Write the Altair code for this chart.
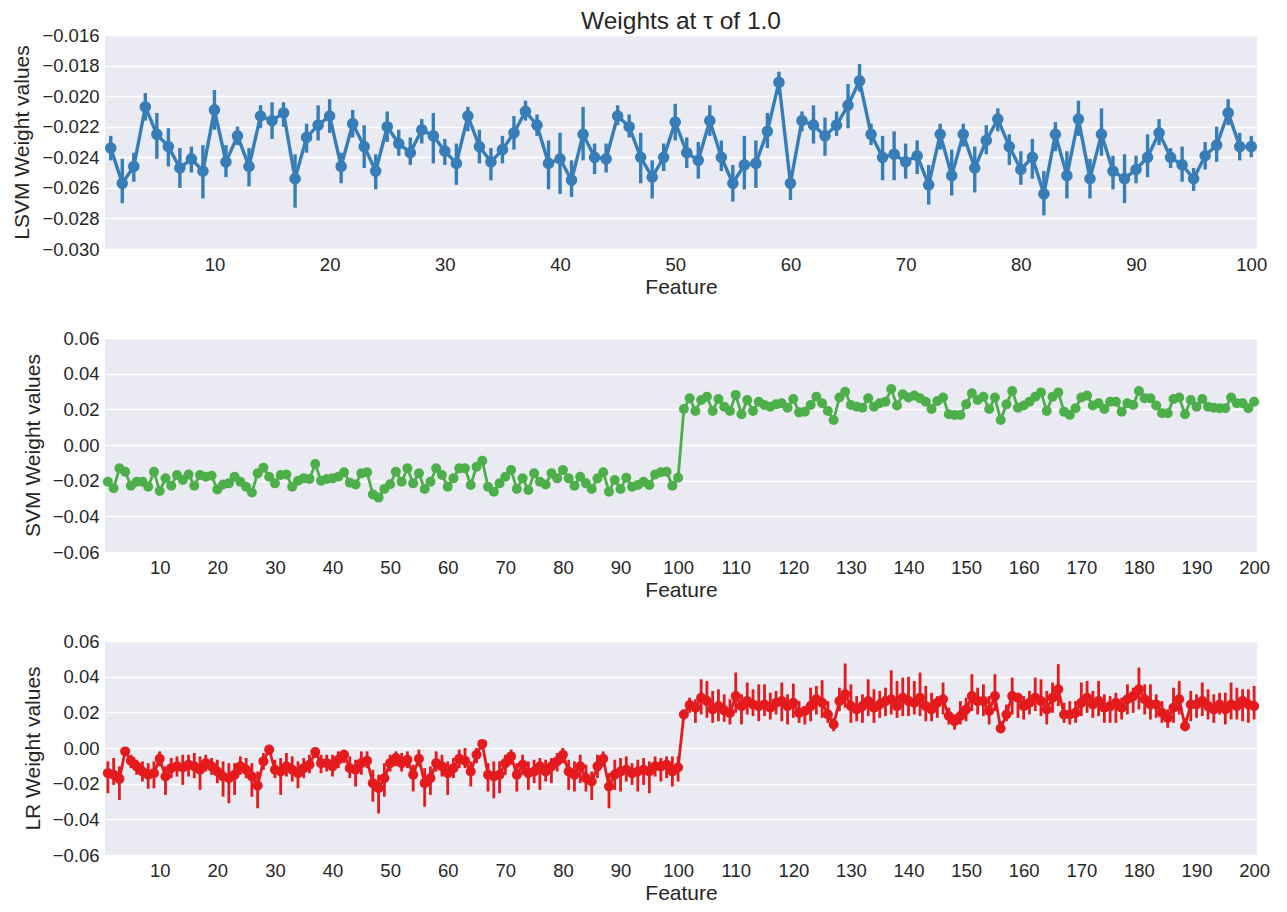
import altair as alt
import pandas as pd

# ---------------- data ----------------
lsvm_w = [-0.0234, -0.0257, -0.0246, -0.0207, -0.0225, -0.0233, -0.0247, -0.0241, -0.0249, -0.0209,
          -0.0243, -0.0226, -0.0246, -0.0213, -0.0216, -0.0211, -0.0254, -0.0227, -0.0219, -0.0213,
          -0.0246, -0.0218, -0.0233, -0.0249, -0.0220, -0.0231, -0.0237, -0.0222, -0.0226, -0.0236,
          -0.0244, -0.0213, -0.0233, -0.0243, -0.0235, -0.0224, -0.0210, -0.0219, -0.0244, -0.0241,
          -0.0255, -0.0225, -0.0240, -0.0241, -0.0213, -0.0220, -0.0240, -0.0253, -0.0240, -0.0217,
          -0.0237, -0.0242, -0.0216, -0.0240, -0.0257, -0.0245, -0.0244, -0.0223, -0.0191, -0.0257,
          -0.0216, -0.0219, -0.0226, -0.0219, -0.0206, -0.0190, -0.0225, -0.0240, -0.0238, -0.0243,
          -0.0239, -0.0258, -0.0225, -0.0252, -0.0225, -0.0247, -0.0229, -0.0215, -0.0233, -0.0248,
          -0.0240, -0.0264, -0.0225, -0.0252, -0.0215, -0.0254, -0.0225, -0.0249, -0.0254, -0.0248,
          -0.0240, -0.0224, -0.0240, -0.0245, -0.0254, -0.0239, -0.0232, -0.0211, -0.0233, -0.0233]
lsvm_lo = [-0.0242, -0.0270, -0.0256, -0.0216, -0.0241, -0.0246, -0.0260, -0.0250, -0.0267, -0.0222,
           -0.0253, -0.0232, -0.0259, -0.0221, -0.0228, -0.0220, -0.0273, -0.0237, -0.0229, -0.0224,
           -0.0257, -0.0227, -0.0247, -0.0261, -0.0230, -0.0239, -0.0245, -0.0231, -0.0244, -0.0245,
           -0.0258, -0.0223, -0.0244, -0.0255, -0.0244, -0.0235, -0.0216, -0.0226, -0.0261, -0.0264,
           -0.0266, -0.0242, -0.0251, -0.0250, -0.0219, -0.0227, -0.0257, -0.0267, -0.0249, -0.0229,
           -0.0247, -0.0254, -0.0226, -0.0249, -0.0269, -0.0261, -0.0260, -0.0234, -0.0199, -0.0268,
           -0.0223, -0.0231, -0.0239, -0.0226, -0.0221, -0.0197, -0.0232, -0.0255, -0.0255, -0.0254,
           -0.0251, -0.0271, -0.0235, -0.0265, -0.0233, -0.0263, -0.0238, -0.0223, -0.0245, -0.0258,
           -0.0254, -0.0278, -0.0236, -0.0267, -0.0226, -0.0267, -0.0239, -0.0261, -0.0270, -0.0257,
           -0.0253, -0.0232, -0.0247, -0.0256, -0.0262, -0.0248, -0.0243, -0.0219, -0.0242, -0.0240]
lsvm_hi = [-0.0226, -0.0241, -0.0237, -0.0198, -0.0211, -0.0221, -0.0234, -0.0233, -0.0232, -0.0196,
           -0.0232, -0.0220, -0.0234, -0.0206, -0.0204, -0.0204, -0.0238, -0.0218, -0.0206, -0.0202,
           -0.0237, -0.0209, -0.0219, -0.0238, -0.0210, -0.0222, -0.0227, -0.0215, -0.0211, -0.0228,
           -0.0231, -0.0207, -0.0222, -0.0234, -0.0226, -0.0213, -0.0203, -0.0212, -0.0229, -0.0224,
           -0.0242, -0.0207, -0.0231, -0.0231, -0.0206, -0.0212, -0.0224, -0.0242, -0.0231, -0.0205,
           -0.0227, -0.0230, -0.0206, -0.0229, -0.0245, -0.0226, -0.0229, -0.0211, -0.0184, -0.0249,
           -0.0210, -0.0206, -0.0214, -0.0210, -0.0192, -0.0179, -0.0218, -0.0226, -0.0223, -0.0231,
           -0.0229, -0.0245, -0.0218, -0.0235, -0.0218, -0.0233, -0.0219, -0.0208, -0.0225, -0.0236,
           -0.0228, -0.0249, -0.0217, -0.0236, -0.0203, -0.0241, -0.0208, -0.0239, -0.0238, -0.0239,
           -0.0225, -0.0215, -0.0234, -0.0233, -0.0247, -0.0230, -0.0220, -0.0202, -0.0224, -0.0226]

svm_w = [-0.0206, -0.0243, -0.0131, -0.0150, -0.0228, -0.0206, -0.0206, -0.0234, -0.0150, -0.0258,
         -0.0187, -0.0228, -0.0168, -0.0196, -0.0165, -0.0228, -0.0168, -0.0178, -0.0172, -0.0249,
         -0.0221, -0.0215, -0.0178, -0.0206, -0.0234, -0.0266, -0.0159, -0.0127, -0.0178, -0.0215,
         -0.0168, -0.0165, -0.0234, -0.0200, -0.0187, -0.0190, -0.0107, -0.0200, -0.0191, -0.0187,
         -0.0178, -0.0153, -0.0211, -0.0221, -0.0159, -0.0153, -0.0277, -0.0295, -0.0247, -0.0220,
         -0.0150, -0.0206, -0.0131, -0.0215, -0.0159, -0.0247, -0.0206, -0.0131, -0.0168, -0.0234,
         -0.0187, -0.0131, -0.0131, -0.0224, -0.0122, -0.0088, -0.0234, -0.0262, -0.0215, -0.0178,
         -0.0140, -0.0247, -0.0187, -0.0252, -0.0159, -0.0206, -0.0221, -0.0159, -0.0187, -0.0140,
         -0.0187, -0.0228, -0.0178, -0.0215, -0.0247, -0.0187, -0.0153, -0.0262, -0.0196, -0.0247,
         -0.0183, -0.0234, -0.0224, -0.0206, -0.0224, -0.0165, -0.0153, -0.0150, -0.0228, -0.0183,
         0.0202, 0.0262, 0.0191, 0.0252, 0.0271, 0.0191, 0.0258, 0.0215, 0.0191, 0.0281,
         0.0172, 0.0252, 0.0191, 0.0243, 0.0224, 0.0215, 0.0228, 0.0234, 0.0209, 0.0258,
         0.0183, 0.0187, 0.0224, 0.0271, 0.0234, 0.0191, 0.0140, 0.0266, 0.0299, 0.0224,
         0.0215, 0.0209, 0.0262, 0.0215, 0.0234, 0.0243, 0.0314, 0.0221, 0.0284, 0.0266,
         0.0277, 0.0262, 0.0243, 0.0202, 0.0247, 0.0266, 0.0172, 0.0168, 0.0168, 0.0228,
         0.0290, 0.0252, 0.0271, 0.0202, 0.0266, 0.0140, 0.0228, 0.0303, 0.0209, 0.0221,
         0.0243, 0.0271, 0.0295, 0.0191, 0.0271, 0.0295, 0.0187, 0.0168, 0.0206, 0.0266,
         0.0277, 0.0221, 0.0234, 0.0202, 0.0243, 0.0243, 0.0187, 0.0234, 0.0224, 0.0303,
         0.0262, 0.0262, 0.0221, 0.0178, 0.0178, 0.0258, 0.0266, 0.0172, 0.0252, 0.0215,
         0.0258, 0.0215, 0.0209, 0.0206, 0.0206, 0.0266, 0.0234, 0.0234, 0.0206, 0.0243]

lr_w = [-0.0141, -0.0150, -0.0173, -0.0019, -0.0071, -0.0103, -0.0132, -0.0150, -0.0141, -0.0060,
        -0.0160, -0.0113, -0.0103, -0.0109, -0.0094, -0.0103, -0.0122, -0.0085, -0.0103, -0.0132,
        -0.0160, -0.0169, -0.0150, -0.0103, -0.0122, -0.0160, -0.0211, -0.0075, -0.0009, -0.0122,
        -0.0132, -0.0103, -0.0122, -0.0141, -0.0113, -0.0094, -0.0023, -0.0085, -0.0085, -0.0103,
        -0.0066, -0.0038, -0.0113, -0.0122, -0.0085, -0.0071, -0.0197, -0.0226, -0.0169, -0.0085,
        -0.0056, -0.0085, -0.0066, -0.0150, -0.0060, -0.0197, -0.0169, -0.0085, -0.0103, -0.0141,
        -0.0113, -0.0060, -0.0071, -0.0132, -0.0038, 0.0023, -0.0150, -0.0160, -0.0150, -0.0085,
        -0.0047, -0.0150, -0.0094, -0.0141, -0.0132, -0.0103, -0.0132, -0.0103, -0.0075, -0.0038,
        -0.0132, -0.0150, -0.0103, -0.0169, -0.0188, -0.0103, -0.0060, -0.0216, -0.0150, -0.0132,
        -0.0122, -0.0141, -0.0132, -0.0122, -0.0132, -0.0103, -0.0103, -0.0094, -0.0132, -0.0109,
        0.0188, 0.0241, 0.0226, 0.0282, 0.0263, 0.0216, 0.0235, 0.0211, 0.0197, 0.0291,
        0.0235, 0.0263, 0.0244, 0.0235, 0.0244, 0.0226, 0.0254, 0.0263, 0.0235, 0.0254,
        0.0197, 0.0207, 0.0235, 0.0273, 0.0254, 0.0188, 0.0132, 0.0263, 0.0301, 0.0235,
        0.0216, 0.0235, 0.0263, 0.0226, 0.0244, 0.0263, 0.0273, 0.0235, 0.0282, 0.0263,
        0.0254, 0.0282, 0.0235, 0.0216, 0.0254, 0.0273, 0.0179, 0.0150, 0.0179, 0.0216,
        0.0291, 0.0263, 0.0263, 0.0207, 0.0291, 0.0109, 0.0188, 0.0291, 0.0282, 0.0235,
        0.0254, 0.0282, 0.0263, 0.0216, 0.0282, 0.0329, 0.0188, 0.0188, 0.0197, 0.0254,
        0.0282, 0.0244, 0.0263, 0.0226, 0.0235, 0.0254, 0.0226, 0.0273, 0.0291, 0.0329,
        0.0273, 0.0244, 0.0244, 0.0197, 0.0169, 0.0226, 0.0273, 0.0122, 0.0244, 0.0244,
        0.0263, 0.0235, 0.0216, 0.0244, 0.0216, 0.0244, 0.0235, 0.0263, 0.0244, 0.0235]
lr_lo = [-0.0254, -0.0207, -0.0291, -0.0038, -0.0113, -0.0150, -0.0188, -0.0229, -0.0226, -0.0103,
         -0.0263, -0.0169, -0.0160, -0.0207, -0.0160, -0.0169, -0.0235, -0.0132, -0.0150, -0.0197,
         -0.0273, -0.0310, -0.0263, -0.0150, -0.0169, -0.0273, -0.0338, -0.0122, -0.0038, -0.0169,
         -0.0263, -0.0160, -0.0188, -0.0226, -0.0169, -0.0141, -0.0056, -0.0141, -0.0132, -0.0160,
         -0.0113, -0.0085, -0.0169, -0.0216, -0.0150, -0.0113, -0.0301, -0.0367, -0.0273, -0.0132,
         -0.0103, -0.0132, -0.0113, -0.0244, -0.0103, -0.0329, -0.0263, -0.0132, -0.0160, -0.0263,
         -0.0169, -0.0113, -0.0113, -0.0216, -0.0085, -0.0009, -0.0244, -0.0282, -0.0254, -0.0150,
         -0.0094, -0.0244, -0.0150, -0.0235, -0.0197, -0.0235, -0.0188, -0.0197, -0.0132, -0.0085,
         -0.0235, -0.0244, -0.0197, -0.0244, -0.0291, -0.0169, -0.0103, -0.0338, -0.0235, -0.0244,
         -0.0188, -0.0207, -0.0244, -0.0207, -0.0254, -0.0160, -0.0188, -0.0169, -0.0216, -0.0188,
         0.0160, 0.0197, 0.0141, 0.0188, 0.0169, 0.0141, 0.0150, 0.0147, 0.0132, 0.0197,
         0.0132, 0.0188, 0.0179, 0.0150, 0.0179, 0.0160, 0.0188, 0.0150, 0.0132, 0.0169,
         0.0141, 0.0132, 0.0150, 0.0188, 0.0169, 0.0141, 0.0094, 0.0207, 0.0226, 0.0141,
         0.0150, 0.0141, 0.0179, 0.0141, 0.0169, 0.0179, 0.0188, 0.0169, 0.0179, 0.0179,
         0.0188, 0.0179, 0.0150, 0.0150, 0.0169, 0.0188, 0.0132, 0.0103, 0.0132, 0.0150,
         0.0207, 0.0188, 0.0179, 0.0132, 0.0207, 0.0085, 0.0150, 0.0188, 0.0169, 0.0160,
         0.0188, 0.0207, 0.0179, 0.0132, 0.0197, 0.0235, 0.0141, 0.0132, 0.0141, 0.0179,
         0.0197, 0.0169, 0.0179, 0.0141, 0.0141, 0.0141, 0.0160, 0.0188, 0.0197, 0.0216,
         0.0188, 0.0160, 0.0169, 0.0141, 0.0113, 0.0141, 0.0188, 0.0094, 0.0150, 0.0169,
         0.0179, 0.0160, 0.0141, 0.0188, 0.0132, 0.0160, 0.0160, 0.0150, 0.0141, 0.0160]
lr_hi = [-0.0075, -0.0056, -0.0103, 0.0000, -0.0038, -0.0066, -0.0075, -0.0085, -0.0075, -0.0019,
         -0.0103, -0.0056, -0.0047, -0.0038, -0.0038, -0.0028, -0.0047, -0.0038, -0.0056, -0.0066,
         -0.0075, -0.0085, -0.0085, -0.0047, -0.0056, -0.0085, -0.0132, -0.0028, 0.0009, -0.0066,
         -0.0056, -0.0028, -0.0047, -0.0075, -0.0056, -0.0038, 0.0000, -0.0038, -0.0038, -0.0038,
         -0.0019, -0.0009, -0.0047, -0.0066, -0.0019, -0.0019, -0.0122, -0.0150, -0.0085, -0.0038,
         -0.0019, -0.0028, -0.0019, -0.0094, -0.0009, -0.0113, -0.0103, -0.0019, -0.0038, -0.0075,
         -0.0056, -0.0009, 0.0000, -0.0075, 0.0000, 0.0041, -0.0085, -0.0075, -0.0075, -0.0038,
         -0.0009, -0.0085, -0.0038, -0.0075, -0.0066, -0.0056, -0.0066, -0.0056, -0.0028, 0.0000,
         -0.0066, -0.0075, -0.0038, -0.0094, -0.0132, -0.0038, -0.0019, -0.0141, -0.0066, -0.0056,
         -0.0047, -0.0085, -0.0066, -0.0056, -0.0075, -0.0047, -0.0056, -0.0047, -0.0047, -0.0047,
         0.0216, 0.0282, 0.0273, 0.0385, 0.0376, 0.0320, 0.0329, 0.0301, 0.0273, 0.0423,
         0.0301, 0.0367, 0.0329, 0.0357, 0.0357, 0.0310, 0.0320, 0.0367, 0.0301, 0.0361,
         0.0263, 0.0235, 0.0338, 0.0348, 0.0380, 0.0263, 0.0169, 0.0338, 0.0474, 0.0357,
         0.0291, 0.0301, 0.0385, 0.0329, 0.0320, 0.0338, 0.0436, 0.0376, 0.0395, 0.0399,
         0.0376, 0.0423, 0.0348, 0.0310, 0.0291, 0.0367, 0.0226, 0.0188, 0.0263, 0.0282,
         0.0414, 0.0338, 0.0357, 0.0291, 0.0414, 0.0150, 0.0244, 0.0395, 0.0310, 0.0291,
         0.0320, 0.0395, 0.0385, 0.0320, 0.0367, 0.0470, 0.0254, 0.0263, 0.0263, 0.0367,
         0.0376, 0.0320, 0.0376, 0.0301, 0.0291, 0.0310, 0.0282, 0.0357, 0.0338, 0.0451,
         0.0357, 0.0357, 0.0301, 0.0263, 0.0216, 0.0338, 0.0376, 0.0169, 0.0320, 0.0301,
         0.0367, 0.0329, 0.0301, 0.0310, 0.0310, 0.0367, 0.0338, 0.0329, 0.0329, 0.0348]

lsvm_ticks = [-0.030, -0.028, -0.026, -0.024, -0.022, -0.020, -0.018, -0.016]
wide_ticks = [-0.06, -0.04, -0.02, 0.00, 0.02, 0.04, 0.06]
x_ticks_100 = list(range(10, 101, 10))
x_ticks_200 = list(range(10, 201, 10))

FONT = "Liberation Sans"
TXT = "#262626"


def panel(w, lo, hi, color, ydom, yticks, yfmt, xticks, ytitle, size, lw, bw, title=None):
    n = len(w)
    df = pd.DataFrame({"feature": list(range(1, n + 1)), "w": w})
    if lo is not None:
        df["lo"] = lo
        df["hi"] = hi
    xscale = alt.Scale(domain=[0.5, n + 0.5], nice=False, zero=False)
    yscale = alt.Scale(domain=ydom, nice=False, zero=False)
    xaxis = alt.Axis(values=xticks, title="Feature", grid=False, format="d",
                     labelPadding=6, titlePadding=3, labelOverlap=False,
                     labelFlush=False)
    yaxis = alt.Axis(values=yticks, format=yfmt, title=ytitle, grid=True,
                     labelPadding=6, titlePadding=9, labelOverlap=False,
                     labelFlush=False)
    x = alt.X("feature:Q", scale=xscale, axis=xaxis)
    y = alt.Y("w:Q", scale=yscale, axis=yaxis)
    base = alt.Chart(df)
    layers = [base.mark_line(color=color, strokeWidth=lw).encode(x=x, y=y)]
    if lo is not None:
        layers.append(base.mark_rule(color=color, strokeWidth=bw).encode(
            x=x, y=alt.Y("lo:Q", scale=yscale, axis=yaxis), y2="hi:Q"))
    layers.append(base.mark_circle(color=color, size=size, opacity=1).encode(x=x, y=y))
    ch = alt.layer(*layers).properties(width=1152, height=214)
    if title is not None:
        ch = ch.properties(title=alt.TitleParams(title, fontSize=24.5, fontWeight="normal",
                                                 font=FONT, color=TXT, offset=-10, dy=-2))
    return ch


p1 = panel(lsvm_w, lsvm_lo, lsvm_hi, "#377eb8", [-0.030, -0.016], lsvm_ticks, ".3f",
           x_ticks_100, "LSVM Weight values", 135, 3.4, 3.4, title="Weights at τ of 1.0")
p2 = panel(svm_w, None, None, "#4daf4a", [-0.06, 0.06], wide_ticks, ".2f",
           x_ticks_200, "SVM Weight values", 100, 2.8, 2.8)
p3 = panel(lr_w, lr_lo, lr_hi, "#e41a1c", [-0.06, 0.06], wide_ticks, ".2f",
           x_ticks_200, "LR Weight values", 100, 2.8, 2.8)

chart = alt.vconcat(p1, p2, p3, spacing=31).properties(
    padding={"left": 3, "top": 0, "right": 5, "bottom": 0},
    background="white"
).configure_view(fill="#EAEAF2", stroke=None).configure_axis(
    domain=False, ticks=False, gridColor="white", gridWidth=1.4,
    labelFont=FONT, labelFontSize=18.5, labelColor=TXT,
    titleFont=FONT, titleFontSize=21, titleColor=TXT, titleFontWeight="normal"
)

chart.save("out.html", embed_options={"renderer": "svg", "actions": False})
